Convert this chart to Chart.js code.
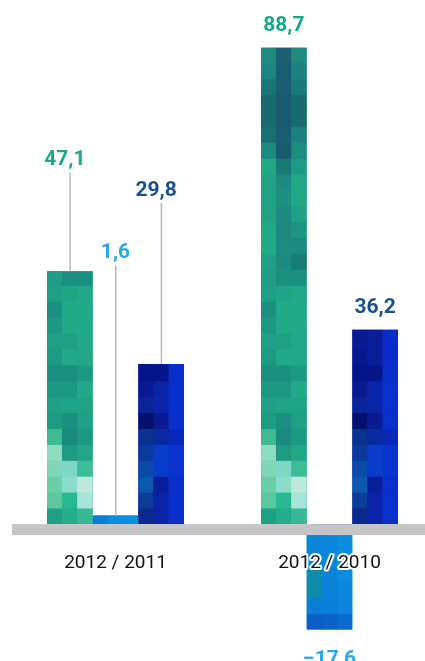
<!DOCTYPE html>
<html><head><meta charset="utf-8">
<script src="https://cdn.jsdelivr.net/npm/chart.js@4/dist/chart.umd.min.js"></script>
<style>
html,body{margin:0;padding:0;overflow:hidden;background:#fff;width:425px;height:661px}
#wrap{position:relative;width:445px;height:661px}
</style></head>
<body><div id="wrap"><canvas id="c"></canvas></div>
<script>
// ---- data ----
const categories = ['2012 / 2011', '2012 / 2010'];
const greenValues = [47.1, 88.7];
const lightBlueValues = [1.6, -17.6];
const darkBlueValues = [29.8, 36.2];
const yMin = -25.5;
const yMax = 97.6;

// ---- styles ----
const labelColors = ['#17a98a', '#29a8e8', '#1b4f8a'];
const fallbackColors = ['#1fa085', '#0a86d8', '#0a2aa8'];
// label placement: group 0 uses leader lines (lift above bar top), group 1 sits right next to bar
const leaderLift = [106, 257, 168];
const leaderDx = [-5, 0, -5];
const ROW_H = 15.9;
const BAND_H = 11;

const greenTex = [
 ['#1fa085','#23ad8a','#3ab896'],
 ['#5cc89e','#2ab890','#a6e4d8'],
 ['#6acfa8','#8cdccc','#bde8dd'],
 ['#7fd6b8','#80d6c6','#3cbd98'],
 ['#8fdcc0','#1d9a82','#22a888'],
 ['#3dba90','#1b8a7e','#1d9882'],
 ['#1d9a82','#1b8f80','#1fa085'],
 ['#1fa085','#1fa387','#1fa387'],
 ['#1d9882','#1d9882','#22aa88'],
 ['#1b9080','#1b9080','#1d9882'],
 ['#1d9a82','#22aa88','#22a888'],
 ['#1fa085','#1fa085','#22a888'],
 ['#1d9882','#22aa88','#22aa88'],
 ['#1b8f80','#22aa88','#22aa88'],
 ['#1fa085','#1fa585','#22a888'],
 ['#1f9e85','#1b8f80','#1b8f80'],
 ['#20a085','#1d8a80','#1a7c7a'],
 ['#22aa88','#1d8c80','#1d8a80'],
 ['#22a888','#1d8a80','#1e9482'],
 ['#20a285','#1d8a80','#20a085'],
 ['#20a285','#1e9082','#22a888'],
 ['#20a285','#1d8a80','#22a888'],
 ['#22a888','#1a7a78','#1e9a84'],
 ['#1d8a80','#1a5a6e','#1e8c80'],
 ['#1a7070','#1a5c70','#1d8080'],
 ['#186a70','#1a5a70','#186a72'],
 ['#186a70','#1a5a70','#186a72'],
 ['#1a7676','#1a5d70','#1a7a7a'],
 ['#1e8580','#1a5d70','#1d8080'],
 ['#1e8a80','#1a6070','#1e8a80']
];
const darkTex = [
 ['#0a2890','#0a24a8','#0a30cc'],
 ['#0a3c98','#0a24a8','#0a30cc'],
 ['#0a58b0','#0a1e9a','#0a30cc'],
 ['#0a4aa8','#0a3ccc','#0a34d0'],
 ['#0a3aa0','#0a3ccc','#0a34d0'],
 ['#0a3290','#0a2aa0','#0a28b8'],
 ['#041070','#0a1a90','#0a30cc'],
 ['#0a2696','#0a26a8','#0a30cc'],
 ['#0a1a92','#0a24a8','#0a30cc'],
 ['#051488','#051488','#0a2ec8'],
 ['#061890','#0a1e98','#0a2ccc'],
 ['#0a1a90','#0a1e9a','#0a2cc8']
];
const lightTexPos = [['#0a7ed0','#0a8ce0','#0a90e0']];
const lightTexNeg = [
 ['#0a86d8','#0a86dc','#0a8ee0'],
 ['#0a88d8','#0a84dc','#0a8ee0'],
 ['#0f8ca8','#0a82d8','#0a8ce0'],
 ['#0f8aa8','#0a80d8','#0a88e0'],
 ['#0a7ed0','#0a7ed8','#0a84dc'],
 ['#0a5ec8','#0a62c8','#0a6ad0']
];
const textures = [[greenTex, greenTex], [lightTexPos, lightTexNeg], [darkTex, darkTex]];

function fmt(v) {
  const s = Math.abs(v).toFixed(1).replace('.', ',');
  return v < 0 ? '\u2212' + s : s;
}

function drawTex(ctx, el, grid, anchor, dir) {
  const p = el.getProps(['x','y','base','width'], true);
  const left = p.x - p.width / 2;
  const top = Math.min(p.y, p.base), bottom = Math.max(p.y, p.base);
  ctx.save();
  ctx.beginPath(); ctx.rect(left, top, p.width, bottom - top); ctx.clip();
  const cw = p.width / 3;
  const rows = Math.ceil((bottom - top) / ROW_H) + 2;
  for (let r = 0; r < rows; r++) {
    const row = grid[Math.min(r, grid.length - 1)];
    const y0 = dir > 0 ? anchor - (r + 1) * ROW_H : anchor + r * ROW_H;
    for (let c = 0; c < 3; c++) {
      ctx.fillStyle = row[c];
      ctx.fillRect(left + c * cw - 0.3, y0 - 0.3, cw + 0.6, ROW_H + 0.6);
    }
  }
  ctx.restore();
}

const overlay = {
  id: 'overlay',
  beforeDatasetsDraw(chart) {
    const ys = chart.scales.y;
    chart.data.datasets.forEach((ds, di) => {
      chart.getDatasetMeta(di).data.forEach((el, i) => {
        const v = ds.data[i];
        if (v < 0) el.y = ys.getPixelForValue(v) + BAND_H;
      });
    });
  },
  afterDatasetsDraw(chart) {
    const ctx = chart.ctx, ys = chart.scales.y;
    const zero = ys.getPixelForValue(0);
    chart.data.datasets.forEach((ds, di) => {
      chart.getDatasetMeta(di).data.forEach((el, i) => {
        const v = ds.data[i];
        if (v >= 0) drawTex(ctx, el, textures[di][0], zero, 1);
        else drawTex(ctx, el, textures[di][1], zero + BAND_H, -1);
      });
    });
    ctx.save();
    ctx.fillStyle = '#c5c5c7';
    ctx.fillRect(12, zero, chart.width - 12, BAND_H);
    ctx.restore();
    ctx.save();
    ctx.font = 'bold 21px Roboto';
    ctx.textAlign = 'center';
    ctx.textBaseline = 'alphabetic';
    chart.data.datasets.forEach((ds, di) => {
      chart.getDatasetMeta(di).data.forEach((el, i) => {
        const v = ds.data[i];
        const p = el.getProps(['x','y','base'], true);
        ctx.fillStyle = labelColors[di];
        if (i === 0) {
          const by = p.y - leaderLift[di];
          ctx.strokeStyle = '#b8b8b8';
          ctx.lineWidth = 1.5;
          ctx.beginPath();
          ctx.moveTo(p.x + 0.25, by + 7);
          ctx.lineTo(p.x + 0.25, p.y);
          ctx.stroke();
          ctx.fillText(fmt(v), p.x + leaderDx[di], by);
        } else if (v >= 0) {
          ctx.fillText(fmt(v), p.x, p.y - 17);
        } else {
          ctx.fillText(fmt(v), p.x, p.y + 35);
        }
      });
    });
    ctx.restore();
    ctx.save();
    ctx.font = '19px Roboto';
    ctx.textAlign = 'center';
    ctx.textBaseline = 'alphabetic';
    const xs = chart.scales.x;
    categories.forEach((c, i) => {
      const x = xs.getPixelForValue(i);
      const y = zero + 44;
      ctx.strokeStyle = '#fff';
      ctx.lineWidth = 4;
      ctx.lineJoin = 'round';
      ctx.strokeText(c, x, y);
      ctx.fillStyle = '#111';
      ctx.fillText(c, x, y);
    });
    ctx.restore();
  }
};

new Chart(document.getElementById('c'), {
  type: 'bar',
  data: {
    labels: categories,
    datasets: [
      { data: greenValues, backgroundColor: fallbackColors[0] },
      { data: lightBlueValues, backgroundColor: fallbackColors[1] },
      { data: darkBlueValues, backgroundColor: fallbackColors[2] }
    ]
  },
  options: {
    responsive: true,
    maintainAspectRatio: false,
    animation: false,
    layout: { padding: { left: 8.5, right: 8.5, top: 0, bottom: 0 } },
    datasets: { bar: { categoryPercentage: 0.64, barPercentage: 1.0, borderWidth: 0 } },
    scales: {
      x: { display: false },
      y: { display: false, min: yMin, max: yMax }
    },
    plugins: { legend: { display: false }, tooltip: { enabled: false } }
  },
  plugins: [overlay]
});
</script>
</body></html>
